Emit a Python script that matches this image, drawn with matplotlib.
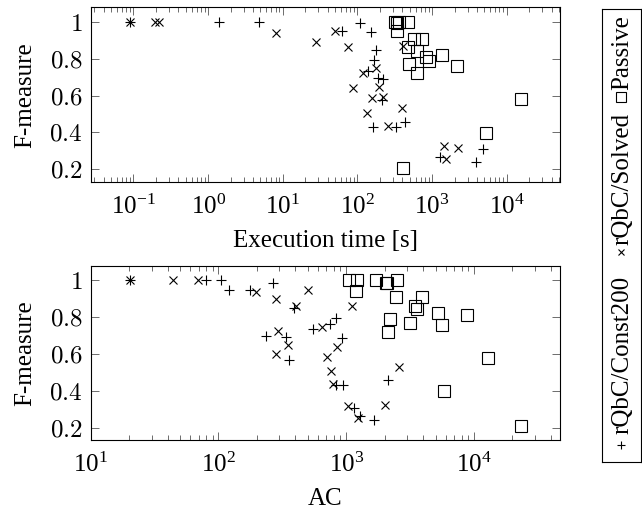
import numpy as np
import matplotlib
matplotlib.use('Agg')
import matplotlib.pyplot as plt
from matplotlib.ticker import LogLocator, FixedLocator, FixedFormatter, NullFormatter, LogFormatterMathtext

plt.rcParams['font.family'] = ['Liberation Serif', 'DejaVu Serif']
plt.rcParams['mathtext.fontset'] = 'cm'

# Execution time panel
time_const_x = [0.09, 1.41, 4.8, 62.7, 108, 152, 177, 168, 140, 190, 222, 211, 160, 326, 434, 1276, 3850, 4860]
time_const_y = [1.0, 1.0, 1.0, 0.95, 0.995, 0.945, 0.849, 0.791, 0.735, 0.695, 0.689, 0.577, 0.431, 0.431, 0.458, 0.268, 0.24, 0.308]
time_solved_x = [0.09, 0.194, 0.22, 8.0, 27.9, 50, 75.5, 404, 120, 177, 195, 86, 155, 218, 133, 392, 254, 1445, 2200, 1538]
time_solved_y = [1.0, 1.0, 1.0, 0.94, 0.894, 0.953, 0.862, 0.867, 0.725, 0.749, 0.646, 0.64, 0.586, 0.595, 0.507, 0.531, 0.437, 0.328, 0.313, 0.253]
time_passive_x = [318, 360, 481, 336, 336, 573, 726, 481, 634, 830, 919, 1345, 2178, 491, 629, 15560, 5240, 412]
time_passive_y = [1.0, 1.0, 1.0, 0.995, 0.95, 0.909, 0.909, 0.862, 0.84, 0.809, 0.789, 0.822, 0.762, 0.773, 0.722, 0.58, 0.398, 0.208]

# AC panel
ac_const_x = [20.4, 79.7, 105, 121, 175, 265, 391, 236, 337, 357, 545, 748, 834, 922, 834, 940, 2138, 1154, 1285, 1652]
ac_const_y = [1.0, 1.0, 1.0, 0.946, 0.946, 0.987, 0.849, 0.697, 0.692, 0.569, 0.734, 0.761, 0.792, 0.686, 0.433, 0.433, 0.457, 0.306, 0.261, 0.243]
ac_solved_x = [20.4, 44, 69, 196, 281, 501, 403, 292, 347, 283, 645, 843, 705, 757, 794, 1119, 2564, 2014, 1031, 1225]
ac_solved_y = [1.0, 1.0, 1.0, 0.937, 0.895, 0.949, 0.86, 0.724, 0.647, 0.598, 0.746, 0.638, 0.583, 0.505, 0.438, 0.86, 0.529, 0.324, 0.315, 0.254]
ac_passive_x = [1055, 1211, 1714, 2051, 2100, 2489, 1194, 2454, 3907, 3460, 3607, 5260, 5594, 8790, 2203, 3126, 2138, 12820, 5860, 23400]
ac_passive_y = [1.0, 1.0, 1.0, 0.987, 0.982, 1.0, 0.94, 0.909, 0.909, 0.86, 0.842, 0.819, 0.759, 0.81, 0.788, 0.768, 0.719, 0.578, 0.397, 0.207]

labels = ['rQbC/Const200', 'rQbC/Solved', 'Passive']
time_xticks = [0.1, 1, 10, 100, 1000, 10000]
ac_xticks = [10, 100, 1000, 10000]
yticks = [0.2, 0.4, 0.6, 0.8, 1.0]
ytick_labels = ['$0.2$', '$0.4$', '$0.6$', '$0.8$', '$1$']

fig = plt.figure(figsize=(6.42, 5.12), dpi=100)
ax1 = fig.add_axes([0.1413, 0.6445, 0.731, 0.3412])
ax2 = fig.add_axes([0.1413, 0.1406, 0.731, 0.3404])

mk = dict(linestyle='none', color='black', markeredgewidth=0.8)

def draw(ax, cx, cy, sx, sy, px, py, xticks):
    ax.plot(cx, cy, marker='+', markersize=7, **mk)
    ax.plot(sx, sy, marker='x', markersize=5.5, **mk)
    ax.plot(px, py, marker='s', markersize=8.5, markerfacecolor='none', **mk)
    ax.set_xscale('log')
    ax.yaxis.set_major_locator(FixedLocator(yticks))
    ax.yaxis.set_major_formatter(FixedFormatter(ytick_labels))
    ax.xaxis.set_major_locator(FixedLocator(xticks))
    ax.xaxis.set_major_formatter(LogFormatterMathtext())
    ax.xaxis.set_minor_locator(LogLocator(base=10, subs=np.arange(2, 10), numticks=100))
    ax.xaxis.set_minor_formatter(NullFormatter())
    ax.tick_params(which='both', direction='in', top=True, right=True,
                   labelsize=18, width=0.6, color='#555555')
    ax.tick_params(which='major', length=6)
    ax.tick_params(axis='x', which='major', pad=9)
    ax.tick_params(axis='y', which='major', pad=6)
    ax.tick_params(which='minor', length=3.5)
    ax.set_ylabel('F-measure', fontsize=18, labelpad=9)
    for s in ax.spines.values():
        s.set_linewidth(0.8)

draw(ax1, time_const_x, time_const_y, time_solved_x, time_solved_y,
     time_passive_x, time_passive_y, time_xticks)
ax1.set_xlim(10 ** -1.573, 10 ** 4.714)
ax1.set_ylim(0.13, 1.08)
ax1.set_xlabel('Execution time [s]', fontsize=18, labelpad=8)

draw(ax2, ac_const_x, ac_const_y, ac_solved_x, ac_solved_y,
     ac_passive_x, ac_passive_y, ac_xticks)
ax2.set_xlim(10, 10 ** 4.673)
ax2.set_ylim(0.133, 1.078)
ax2.set_xlabel('AC', fontsize=18, labelpad=8)

# rotated legend box on the right
lax = fig.add_axes([0.9372, 0.0982, 0.0612, 0.8836])
lax.set_xlim(0, 1)
lax.set_ylim(0, 1)
lax.set_xticks([])
lax.set_yticks([])
for s in lax.spines.values():
    s.set_linewidth(0.8)
leg_marks = ['+', 'x', 's']
leg_sizes = [6, 4.5, 7]
leg_mark_y = [0.037, 0.464, 0.806]
leg_text_y = [0.062, 0.478, 0.821]
for m, ms, ym, yt, lab in zip(leg_marks, leg_sizes, leg_mark_y, leg_text_y, labels):
    lax.plot([0.5], [ym], marker=m, markersize=ms, markerfacecolor='none', **mk)
    lax.text(0.53, yt, lab, rotation=90, rotation_mode='anchor', ha='left', va='center',
             fontsize=18, transform=lax.transAxes)

plt.savefig('out.png', dpi=100)
